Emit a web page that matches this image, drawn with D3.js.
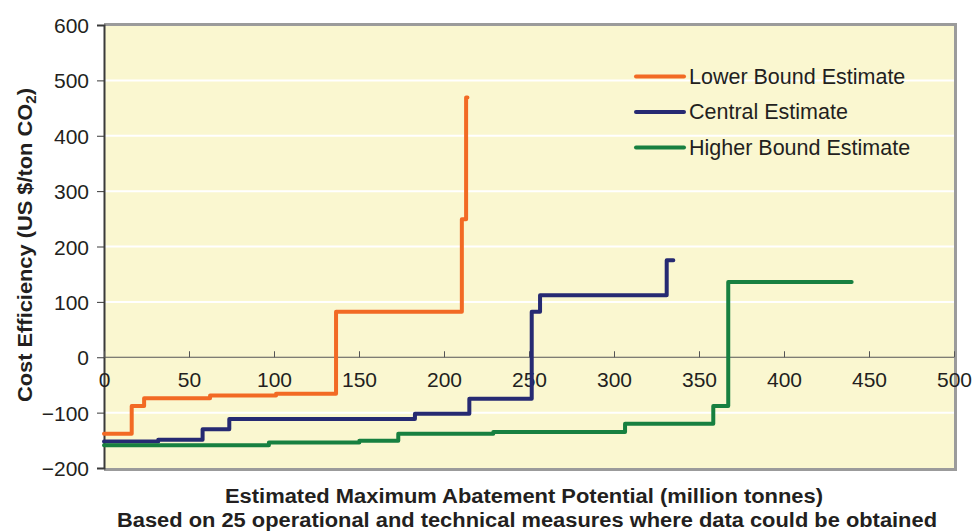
<!DOCTYPE html>
<html><head><meta charset="utf-8">
<script src="https://cdn.jsdelivr.net/npm/d3@7"></script>
<style>
html,body{margin:0;padding:0;background:#fff;}
svg{display:block;}
text{font-family:"Liberation Sans",Arial,Helvetica,sans-serif;fill:#231f20;}
</style></head>
<body>
<svg id="chart" width="974" height="531"></svg>
<script>
// ---- data ----
const xTicks = [0, 50, 100, 150, 200, 250, 300, 350, 400, 450, 500];
const yTicks = [-200, -100, 0, 100, 200, 300, 400, 500, 600];
const seriesNames = ["Lower Bound Estimate", "Central Estimate", "Higher Bound Estimate"];
const seriesColors = ["#f26a24", "#262a72", "#178040"];
// cumulative abatement edges (million tonnes) and step cost values (US$/ton CO2)
const lowerEdges   = [0, 16.3, 23.6, 62.4, 101.2, 136.5, 210.5, 213, 213.8];
const lowerCosts   = [-138, -88, -74, -69, -66, 82, 249, 469];
const centralEdges = [0, 31.9, 58, 73.7, 182.9, 214.9, 251.6, 256.5, 331, 334.9];
const centralCosts = [-152, -149, -130, -111.5, -102, -75, 82, 112, 175];
const higherEdges  = [0, 97, 150.2, 173.1, 229, 306.5, 358.4, 367.2, 439.8];
const higherCosts  = [-159, -154, -151, -138, -135, -120, -88, 136];

const series = [
  {edges: lowerEdges, costs: lowerCosts},
  {edges: centralEdges, costs: centralCosts},
  {edges: higherEdges, costs: higherCosts}
];

// ---- layout ----
const L = 104, R = 954, T = 25, B = 468;
const svg = d3.select("#chart");
const x = d3.scaleLinear().domain([0, 500]).range([L, R]);
const y = d3.scaleLinear().domain([-200, 600]).range([B, T]);

// plot background
svg.append("rect").attr("x", L).attr("y", T).attr("width", R - L).attr("height", B - T)
  .attr("fill", "#faf7d0");

// white gridlines
svg.append("g").selectAll("line").data(yTicks.filter(d => d !== 0 && d !== -200 && d !== 600))
  .join("line")
  .attr("x1", L).attr("x2", R).attr("y1", d => y(d)).attr("y2", d => y(d))
  .attr("stroke", "#ffffff").attr("stroke-width", 2);

// frame shadow (top, right, bottom)
const frame = svg.append("g").attr("stroke", "#9b9b9b").attr("stroke-width", 3).attr("fill", "none");
frame.append("path").attr("d", `M${L},${T - 0.5}H${R + 1.5}V${B + 1.5}H${L}`);

// y axis
const yAxis = svg.append("g").attr("transform", `translate(${L},0)`)
  .call(d3.axisLeft(y).tickValues(yTicks).tickSize(7).tickPadding(8).tickFormat(d3.format("d")));
yAxis.select(".domain").attr("stroke", "#3a3a3a").attr("stroke-width", 2);
yAxis.selectAll(".tick line").attr("stroke", "#3a3a3a");
yAxis.selectAll("text").style("font-size", "21px").attr("fill", "#231f20").attr("dy", "0.36em");

// x axis at y=0
const xAxis = svg.append("g").attr("transform", `translate(0,${y(0)})`)
  .call(d3.axisTop(x).tickValues(xTicks).tickSize(6).tickFormat(d3.format("d")));
xAxis.select(".domain").attr("stroke", "#555").attr("stroke-width", 1).attr("d", `M${L},0H${R}`);
xAxis.selectAll(".tick line").attr("stroke", "#555");
xAxis.selectAll("text").style("font-size", "21px").attr("fill", "#231f20")
  .attr("y", 30).attr("dy", 0);

// step lines
const line = d3.line().x(d => x(d[0])).y(d => y(d[1])).curve(d3.curveStepAfter);
series.forEach((s, i) => {
  const pts = s.costs.map((c, k) => [s.edges[k], c]);
  pts.push([s.edges[s.edges.length - 1], s.costs[s.costs.length - 1]]);
  svg.append("path").datum(pts).attr("d", line)
    .attr("fill", "none").attr("stroke", seriesColors[i]).attr("stroke-width", 4)
    .attr("stroke-linejoin", "round").attr("stroke-linecap", "round");
});

// legend
const legend = svg.append("g");
seriesNames.forEach((n, i) => {
  const ly = 76.5 + i * 35.5;
  legend.append("line").attr("x1", 636).attr("x2", 684).attr("y1", ly).attr("y2", ly)
    .attr("stroke", seriesColors[i]).attr("stroke-width", 4).attr("stroke-linecap", "round");
  legend.append("text").attr("x", 689).attr("y", ly + 7).style("font-size", "21.5px").text(n);
});

// y axis title
const yt = svg.append("text").attr("transform", "translate(32,245) rotate(-90)")
  .attr("text-anchor", "middle").style("font-size", "20px").style("font-weight", "bold")
  .attr("textLength", 314).attr("lengthAdjust", "spacingAndGlyphs");
yt.append("tspan").text("Cost Efficiency (US $/ton CO");
yt.append("tspan").attr("dy", 4).style("font-size", "14px").text("2");
yt.append("tspan").attr("dy", -4).text(")");

// x axis titles
svg.append("text").attr("x", 524).attr("y", 503).attr("text-anchor", "middle")
  .style("font-family", "'Liberation Sans Narrow','Arial Narrow',sans-serif")
  .style("font-size", "20px").style("font-weight", "bold")
  .attr("textLength", 598).attr("lengthAdjust", "spacingAndGlyphs")
  .text("Estimated Maximum Abatement Potential (million tonnes)");
svg.append("text").attr("x", 527).attr("y", 527).attr("text-anchor", "middle")
  .style("font-family", "'Liberation Sans Narrow','Arial Narrow',sans-serif")
  .style("font-size", "20px").style("font-weight", "bold")
  .attr("textLength", 820).attr("lengthAdjust", "spacingAndGlyphs")
  .text("Based on 25 operational and technical measures where data could be obtained");
</script>
</body></html>
